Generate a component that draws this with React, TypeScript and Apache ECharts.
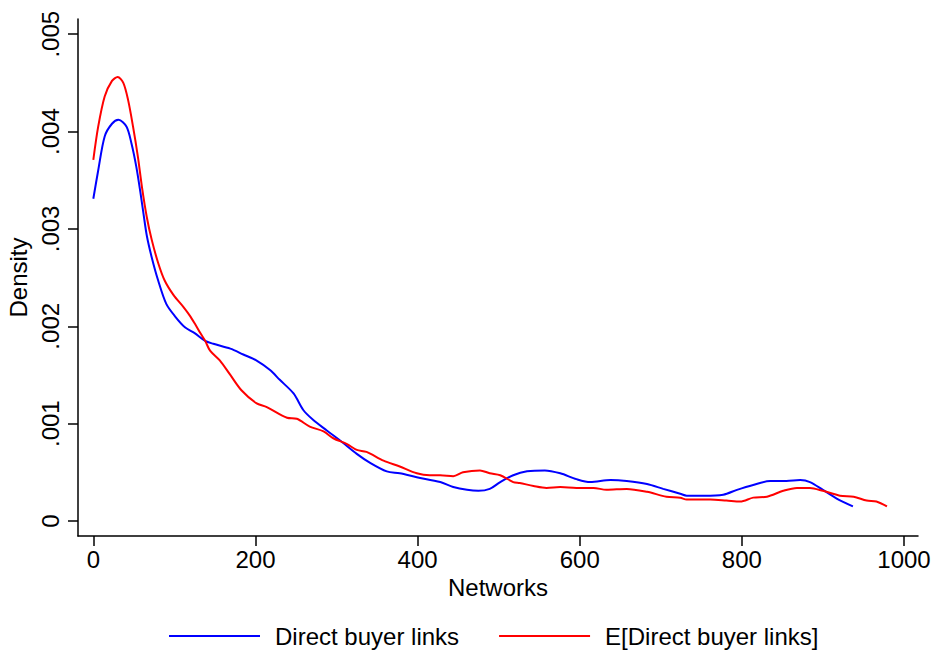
import React, { useEffect, useRef } from "react";
import * as echarts from "echarts";

const blueX = [0, 6, 14, 23, 31, 41, 47, 53, 58, 62, 66, 72, 80, 90, 101, 113, 125, 138, 148, 169, 185, 201, 218, 230, 247, 259, 271, 288, 304, 325, 341, 362, 378, 399, 428, 444, 461, 475, 489, 502, 518, 535, 557, 576, 596, 613, 638, 658, 683, 703, 724, 732, 753, 777, 794, 814, 835, 855, 872, 884, 900, 917, 937];
const blueY = [3.31, 3.6, 3.95, 4.08, 4.12, 4.05, 3.88, 3.64, 3.38, 3.15, 2.93, 2.71, 2.47, 2.23, 2.1, 1.99, 1.93, 1.85, 1.82, 1.77, 1.71, 1.65, 1.55, 1.45, 1.31, 1.14, 1.04, 0.93, 0.83, 0.69, 0.6, 0.51, 0.49, 0.45, 0.4, 0.35, 0.32, 0.31, 0.33, 0.4, 0.47, 0.51, 0.52, 0.49, 0.43, 0.4, 0.42, 0.41, 0.38, 0.33, 0.28, 0.26, 0.26, 0.27, 0.32, 0.37, 0.41, 0.41, 0.42, 0.4, 0.32, 0.23, 0.15];

const redX = [0, 6, 14, 23, 30, 37, 43, 49, 55, 60, 66, 72, 80, 88, 99, 111, 119, 125, 132, 138, 144, 156, 169, 183, 201, 214, 239, 251, 267, 284, 296, 313, 325, 337, 358, 378, 399, 415, 428, 444, 456, 477, 489, 502, 518, 526, 543, 559, 576, 596, 617, 633, 658, 683, 707, 724, 732, 761, 781, 798, 814, 831, 851, 868, 884, 900, 921, 938, 954, 966, 979];
const redY = [3.71, 4.05, 4.36, 4.52, 4.56, 4.5, 4.32, 4.05, 3.74, 3.43, 3.12, 2.89, 2.65, 2.47, 2.32, 2.2, 2.11, 2.03, 1.93, 1.85, 1.75, 1.65, 1.5, 1.34, 1.21, 1.17, 1.06, 1.05, 0.97, 0.92, 0.85, 0.79, 0.73, 0.71, 0.62, 0.56, 0.49, 0.47, 0.47, 0.46, 0.5, 0.52, 0.49, 0.47, 0.4, 0.39, 0.36, 0.34, 0.35, 0.34, 0.34, 0.32, 0.33, 0.3, 0.25, 0.24, 0.22, 0.22, 0.21, 0.2, 0.24, 0.25, 0.31, 0.34, 0.34, 0.31, 0.26, 0.25, 0.21, 0.2, 0.15];

const xTicks = [0, 200, 400, 600, 800, 1000];
const xTickLabels = ["0", "200", "400", "600", "800", "1000"];
const yTicks = [0, 0.001, 0.002, 0.003, 0.004, 0.005];
const yTickLabels = ["0", ".001", ".002", ".003", ".004", ".005"];

const seriesNames = ["Direct buyer links", "E[Direct buyer links]"];

const FONT = "Liberation Sans, Arial, sans-serif";

function nearestLabel(ticks: number[], labels: string[], v: number) {
  let best = 0;
  for (let i = 0; i < ticks.length; i++) {
    if (Math.abs(ticks[i] - v) < Math.abs(ticks[best] - v)) best = i;
  }
  return labels[best];
}

export default function App() {
  const ref = useRef<HTMLDivElement>(null);
  useEffect(() => {
    if (!ref.current) return;
    const chart = echarts.init(ref.current, null, { renderer: "svg" });
    const blueData = blueX.map((x, i) => [x, blueY[i] / 1000]);
    const redData = redX.map((x, i) => [x, redY[i] / 1000]);
    const axisStyle = { color: "#000", width: 1.5 };
    chart.setOption({
      animation: false,
      backgroundColor: "#fff",
      textStyle: { fontFamily: FONT },
      grid: { left: 78, right: 20, top: 19, bottom: 122, outerBoundsMode: "none", containLabel: false },
      legend: {
        data: seriesNames,
        left: 169,
        top: 624,
        padding: 0,
        icon: "rect",
        itemWidth: 91,
        itemHeight: 2,
        itemGap: 40,
        textStyle: { fontSize: 24, color: "#000", fontFamily: FONT, padding: [0, 0, 0, 10] },
      },
      xAxis: {
        type: "value",
        min: -18.9,
        max: 1017.3,
        name: "Networks",
        nameLocation: "middle",
        nameGap: 35,
        nameTextStyle: { fontSize: 24, color: "#000", fontFamily: FONT },
        axisLine: { show: true, onZero: false, lineStyle: axisStyle },
        axisTick: { show: true, length: 10, customValues: xTicks, lineStyle: axisStyle },
        axisLabel: {
          customValues: xTicks,
          fontSize: 24,
          color: "#000",
          margin: 11,
          fontFamily: FONT,
          formatter: (v: number) => nearestLabel(xTicks, xTickLabels, v),
        },
        splitLine: { show: false },
      },
      yAxis: {
        type: "value",
        min: -0.000154,
        max: 0.005156,
        name: "Density",
        nameLocation: "middle",
        nameGap: 43,
        nameTextStyle: { fontSize: 24, color: "#000", fontFamily: FONT },
        axisLine: { show: true, onZero: false, lineStyle: axisStyle },
        axisTick: { show: true, length: 10, customValues: yTicks, lineStyle: axisStyle },
        axisLabel: {
          customValues: yTicks,
          rotate: 90,
          fontSize: 24,
          color: "#000",
          margin: 16,
          fontFamily: FONT,
          formatter: (v: number) => nearestLabel(yTicks, yTickLabels, v),
        },
        splitLine: { show: false },
      },
      series: [
        {
          name: seriesNames[0],
          type: "line",
          data: blueData,
          smooth: 0.3,
          showSymbol: false,
          symbol: "none",
          itemStyle: { color: "#0000ff" },
          lineStyle: { color: "#0000ff", width: 2 },
        },
        {
          name: seriesNames[1],
          type: "line",
          data: redData,
          smooth: 0.3,
          showSymbol: false,
          symbol: "none",
          itemStyle: { color: "#ff0000" },
          lineStyle: { color: "#ff0000", width: 2 },
        },
      ],
    });
    return () => chart.dispose();
  }, []);
  return (
    <div
      ref={ref}
      style={{ position: "absolute", left: 0, top: 0, width: 938, height: 658, background: "#fff" }}
    />
  );
}
